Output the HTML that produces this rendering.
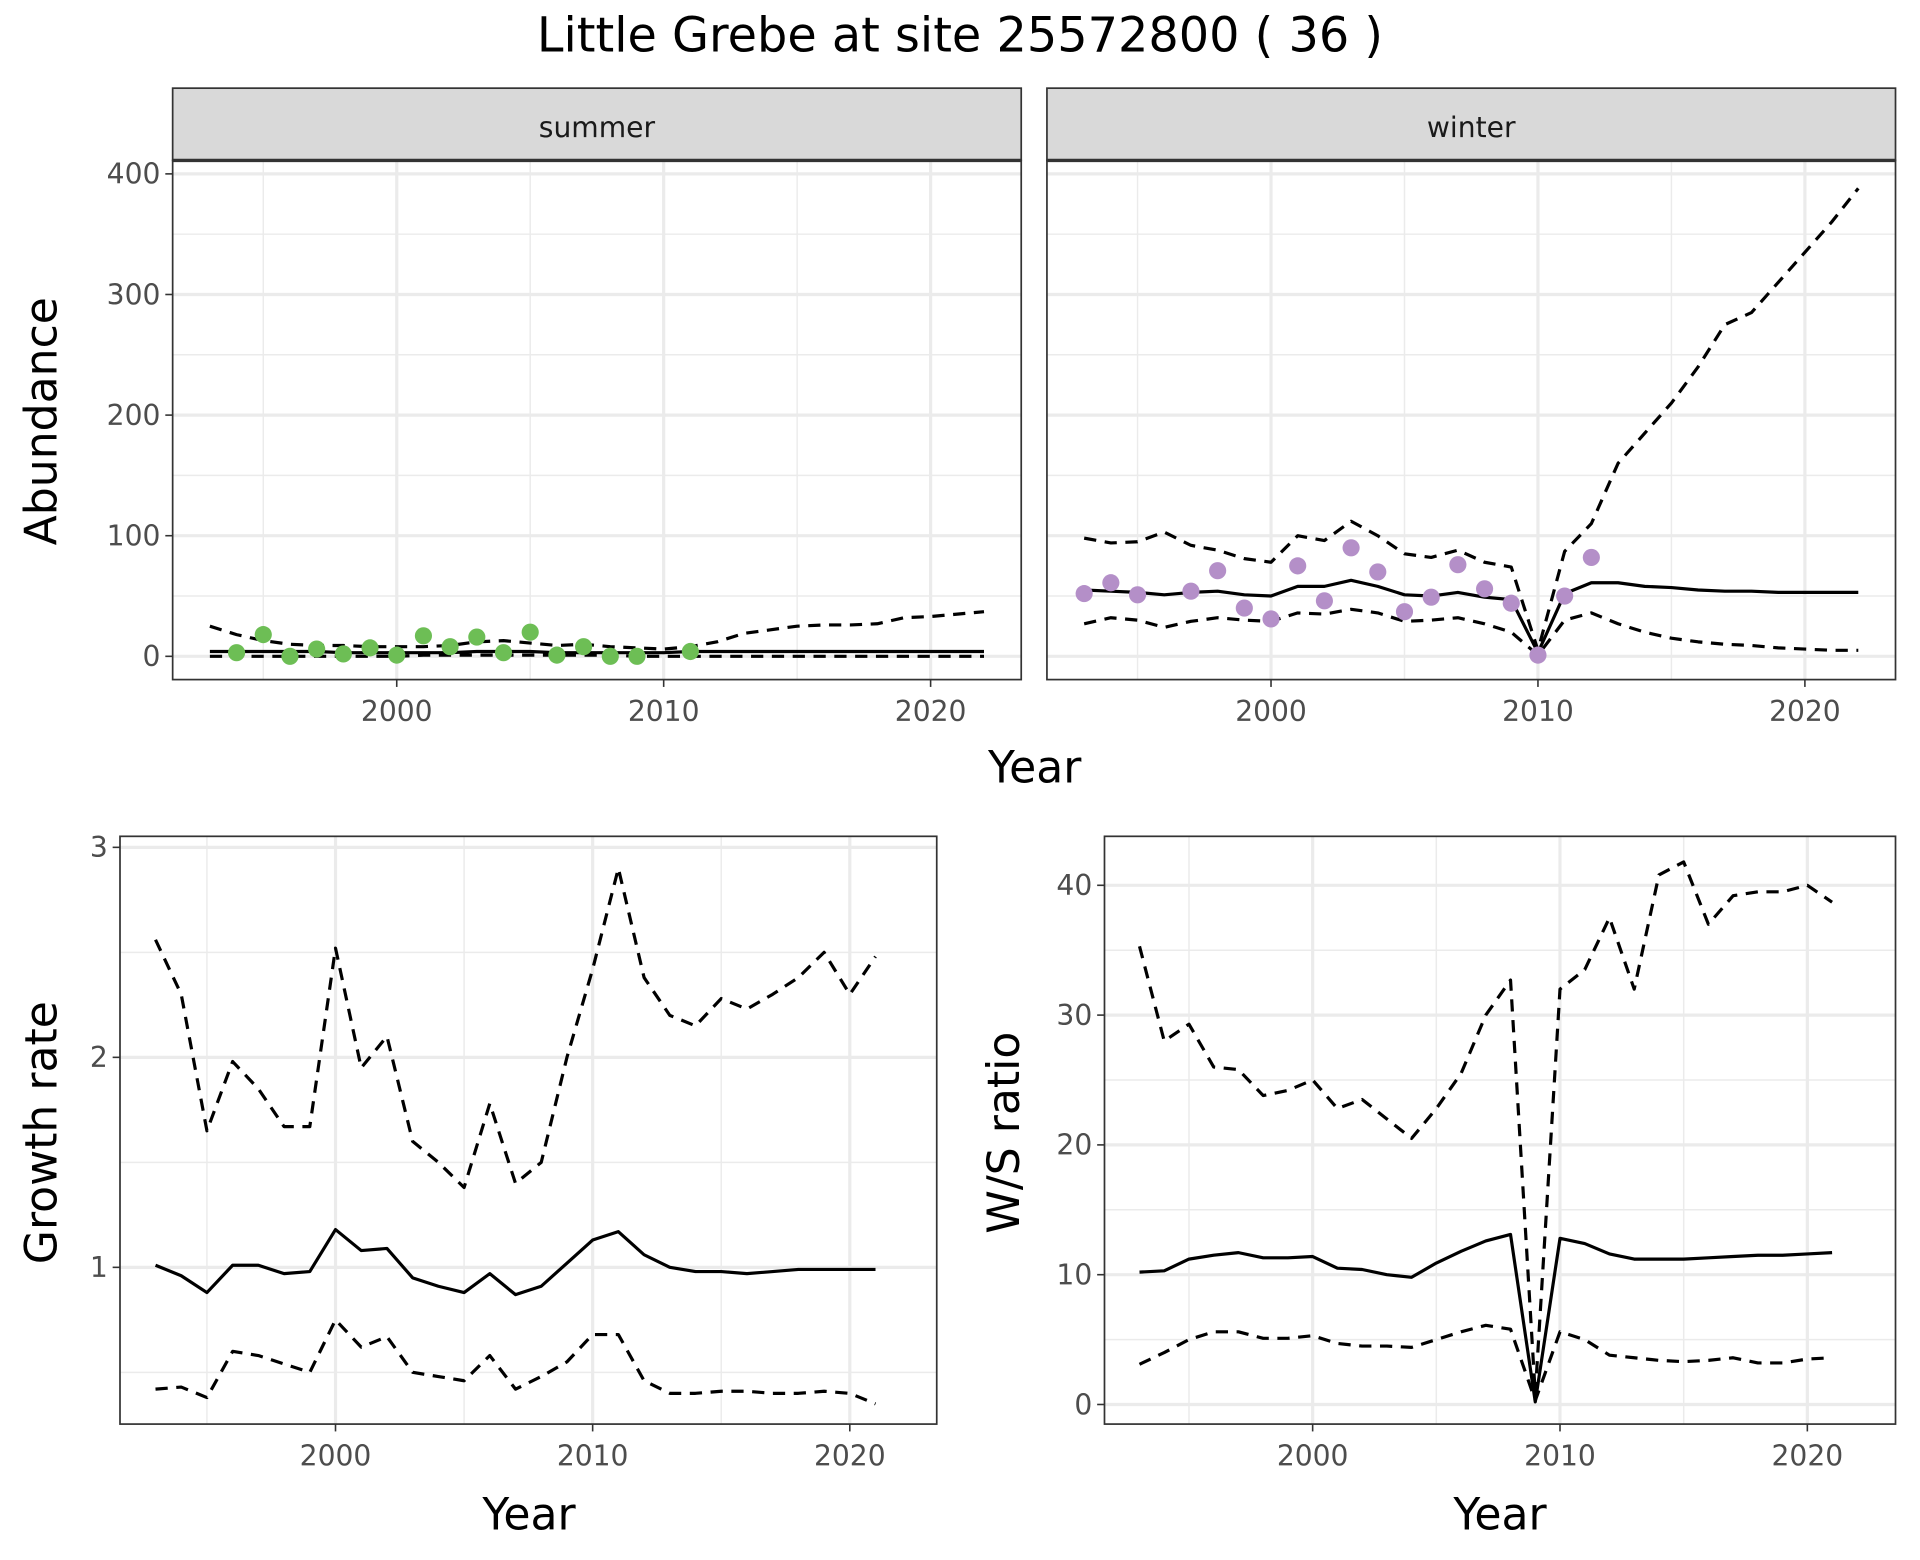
<!DOCTYPE html>
<html><head><meta charset="utf-8"><style>
html,body{margin:0;padding:0;background:#fff}
svg{display:block;font-family:"DejaVu Sans","Liberation Sans",sans-serif}
</style></head><body>
<svg id="chart" width="1920" height="1560" viewBox="0 0 1568 1274" xmlns="http://www.w3.org/2000/svg">
<text x="784" y="42" font-size="39" text-anchor="middle" fill="#000">Little Grebe at site 25572800 ( 36 )</text>
</svg>
<script>
// ---- data ----
const sumYears = [1993,1994,1995,1996,1997,1998,1999,2000,2001,2002,2003,2004,2005,2006,2007,2008,2009,2010,2011,2012,2013,2014,2015,2016,2017,2018,2019,2020,2021,2022];
const sumMean = [4,4,4,4,4,3,3,3,3,3,4,4,4,3,3,3,3,3,4,4,4,4,4,4,4,4,4,4,4,4];
const sumUpper = [25,18,13,10,9,9,8,8,8,9,12,13,11,9,10,8,7,6,8,12,19,22,25,26,26,27,32,33,35,37];
const sumLower = [0,0,0,0,0,0,0,0,1,1,1,1,1,1,1,1,0,0,0,0,0,0,0,0,0,0,0,0,0,0];
const sumPtYears = [1994,1995,1996,1997,1998,1999,2000,2001,2002,2003,2004,2005,2006,2007,2008,2009,2011];
const sumPts = [3,18,0,6,2,7,1,17,8,16,3,20,1,8,0,0,4];

const winYears = sumYears;
const winMean = [55,54,53,51,53,54,51,50,58,58,63,58,51,50,53,49,47,3,52,61,61,58,57,55,54,54,53,53,53,53];
const winUpper = [98,94,95,103,92,88,81,78,100,96,112,100,85,82,88,78,74,5,87,110,160,185,210,240,275,285,310,335,360,388];
const winLower = [27,32,30,24,29,32,30,29,36,35,39,36,29,30,32,27,20,1,30,36,27,20,15,12,10,9,7,6,5,5];
const winPtYears = [1993,1994,1995,1997,1998,1999,2000,2001,2002,2003,2004,2005,2006,2007,2008,2009,2010,2011,2012];
const winPts = [52,61,51,54,71,40,31,75,46,90,70,37,49,76,56,44,1,50,82];

const grYears = [1993,1994,1995,1996,1997,1998,1999,2000,2001,2002,2003,2004,2005,2006,2007,2008,2009,2010,2011,2012,2013,2014,2015,2016,2017,2018,2019,2020,2021];
const grMean = [1.01,0.96,0.88,1.01,1.01,0.97,0.98,1.18,1.08,1.09,0.95,0.91,0.88,0.97,0.87,0.91,1.02,1.13,1.17,1.06,1.00,0.98,0.98,0.97,0.98,0.99,0.99,0.99,0.99];
const grUpper = [2.56,2.3,1.65,1.98,1.85,1.67,1.67,2.52,1.95,2.1,1.6,1.5,1.38,1.78,1.40,1.50,2.0,2.42,2.9,2.38,2.2,2.15,2.28,2.23,2.3,2.38,2.5,2.3,2.48];
const grLower = [0.42,0.43,0.38,0.6,0.58,0.54,0.50,0.75,0.62,0.67,0.50,0.48,0.46,0.58,0.42,0.48,0.55,0.68,0.68,0.46,0.40,0.40,0.41,0.41,0.40,0.40,0.41,0.40,0.35];

const wsYears = grYears;
const wsMean = [10.2,10.3,11.2,11.5,11.7,11.3,11.3,11.4,10.5,10.4,10.0,9.8,10.9,11.8,12.6,13.1,0.2,12.8,12.4,11.6,11.2,11.2,11.2,11.3,11.4,11.5,11.5,11.6,11.7];
const wsUpper = [35.3,28,29.3,26,25.8,23.8,24.2,25,22.8,23.5,22,20.5,22.8,25.5,30,32.7,0.8,32,33.5,37.5,32,40.8,41.8,37,39.2,39.5,39.5,40,38.7];
const wsLower = [3.1,4,5,5.6,5.6,5.1,5.1,5.3,4.7,4.5,4.5,4.4,5,5.6,6.1,5.8,0.3,5.6,5,3.8,3.6,3.4,3.3,3.4,3.6,3.2,3.2,3.5,3.6];

const abTicks = [0,100,200,300,400];
const abMinor = [50,150,250,350];
const grTicks = [1,2,3];
const grMinor = [0.5,1.5,2.5];
const wsTicks = [0,10,20,30,40];
const wsMinor = [5,15,25,35];
const yearTicks = [2000,2010,2020];
const yearMinor = [1995,2005,2015];

// ---- drawing ----
const svg = document.getElementById('chart');
const NS = 'http://www.w3.org/2000/svg';
function mk(tag, attrs, parent){
  const e = document.createElementNS(NS, tag);
  for (const k in attrs) e.setAttribute(k, attrs[k]);
  (parent||svg).appendChild(e);
  return e;
}
function lin(d0,d1,r0,r1){return v => r0 + (v-d0)*(r1-r0)/(d1-d0);}
const TF = 23;
const AF = 36;

function panel(name, x0,x1,y0,y1, sx, sy, yT, yMin, showY){
  const g = mk('g',{});
  
  
  mk('rect',{x:x0,y:y0,width:x1-x0,height:y1-y0,fill:'#fff'},g);
  yMin.forEach(v=>mk('line',{x1:x0,x2:x1,y1:sy(v),y2:sy(v),stroke:'#EBEBEB','stroke-width':1.2},g));
  yearMinor.forEach(v=>mk('line',{x1:sx(v),x2:sx(v),y1:y0,y2:y1,stroke:'#EBEBEB','stroke-width':1.2},g));
  yT.forEach(v=>mk('line',{x1:x0,x2:x1,y1:sy(v),y2:sy(v),stroke:'#EBEBEB','stroke-width':2.6},g));
  yearTicks.forEach(v=>mk('line',{x1:sx(v),x2:sx(v),y1:y0,y2:y1,stroke:'#EBEBEB','stroke-width':2.6},g));
  yearTicks.forEach(v=>{
    mk('line',{x1:sx(v),x2:sx(v),y1:y1,y2:y1+6,stroke:'#333','stroke-width':1.3},g);
    const t = mk('text',{x:sx(v),y:y1+34,'font-size':TF,'text-anchor':'middle',fill:'#4D4D4D'},g);
    t.textContent = v;
    
    
  });
  if (showY) yT.forEach(v=>{
    mk('line',{x1:x0-6,x2:x0,y1:sy(v),y2:sy(v),stroke:'#333','stroke-width':1.3},g);
    const t = mk('text',{x:x0-10,y:sy(v)+8,'font-size':TF,'text-anchor':'end',fill:'#4D4D4D'},g);
    t.textContent = v;
    
    
  });
  return g;
}
function border(g,x0,x1,y0,y1){
  mk('rect',{x:x0,y:y0,width:x1-x0,height:y1-y0,fill:'none',stroke:'#333','stroke-width':1.4},g);
}
function line(g, name, xs, ys, sx, sy, dashed){
  const p = mk('polyline',{points:xs.map((x,i)=>sx(x)+','+sy(ys[i])).join(' '),fill:'none',stroke:'#000','stroke-width':2.6,'stroke-linejoin':'round'},g);
  if (dashed) p.setAttribute('stroke-dasharray','10,7');
  
  
}
function points(g, name, xs, ys, sx, sy, col){
  xs.forEach((x,i)=>{
    const c = mk('circle',{cx:sx(x),cy:sy(ys[i]),r:7,fill:col},g);
    
    
  });
}
function label(name, txt, x, y, size, rot){
  const t = mk('text',{x:x,y:y,'font-size':size,'text-anchor':'middle',fill:'#000'});
  if (rot) t.setAttribute('transform','rotate(-90 '+x+' '+y+')');
  t.textContent = txt;
  
  
}
function strip(name, txt, x0, x1){
  const g = mk('g',{});
  
  
  mk('rect',{x:x0,y:72,width:x1-x0,height:59,fill:'#D9D9D9',stroke:'#333','stroke-width':1.4},g);
  mk('line',{x1:x0,x2:x1,y1:131,y2:131,stroke:'#333','stroke-width':2.8},g);
  const t = mk('text',{x:(x0+x1)/2,y:112,'font-size':TF,'text-anchor':'middle',fill:'#1A1A1A'},g);
  t.textContent = txt;
}

const syAb = lin(0,400,536,142);
const sxS = lin(2000,2010,324,542);
let g = panel('summer-panel',141,834,131,555,sxS,syAb,abTicks,abMinor,true);
line(g,'summer-upper-line',sumYears,sumUpper,sxS,syAb,true);
line(g,'summer-lower-line',sumYears,sumLower,sxS,syAb,true);
line(g,'summer-mean-line',sumYears,sumMean,sxS,syAb,false);
points(g,'summer-point',sumPtYears,sumPts,sxS,syAb,'#6DBE55');
border(g,141,834,131,555);
strip('summer-strip','summer',141,834);

const sxW = lin(2000,2010,1038,1256);
g = panel('winter-panel',855,1548,131,555,sxW,syAb,abTicks,abMinor,false);
line(g,'winter-upper-line',winYears,winUpper,sxW,syAb,true);
line(g,'winter-lower-line',winYears,winLower,sxW,syAb,true);
line(g,'winter-mean-line',winYears,winMean,sxW,syAb,false);
points(g,'winter-point',winPtYears,winPts,sxW,syAb,'#B48FC8');
border(g,855,1548,131,555);
strip('winter-strip','winter',855,1548);
label('top-x-axis-title','Year',845,639,AF,false);
label('abundance-y-axis-title','Abundance',46,344,AF,true);

const sxG = lin(2000,2010,274,484);
const syG = lin(1,3,1035,692);
g = panel('growth-rate-panel',98,765,683,1163,sxG,syG,grTicks,grMinor,true);
line(g,'growth-upper-line',grYears,grUpper,sxG,syG,true);
line(g,'growth-lower-line',grYears,grLower,sxG,syG,true);
line(g,'growth-mean-line',grYears,grMean,sxG,syG,false);
border(g,98,765,683,1163);
label('growth-x-axis-title','Year',432,1249,AF,false);
label('growth-y-axis-title','Growth rate',46,925,AF,true);

const sxR = lin(2000,2010,1072,1274);
const syR = lin(0,40,1147,723);
g = panel('ws-ratio-panel',902,1548,683,1163,sxR,syR,wsTicks,wsMinor,true);
line(g,'ws-upper-line',wsYears,wsUpper,sxR,syR,true);
line(g,'ws-lower-line',wsYears,wsLower,sxR,syR,true);
line(g,'ws-mean-line',wsYears,wsMean,sxR,syR,false);
border(g,902,1548,683,1163);
label('ws-x-axis-title','Year',1225,1249,AF,false);
label('ws-y-axis-title','W/S ratio',832,925,AF,true);
</script>
</body></html>
